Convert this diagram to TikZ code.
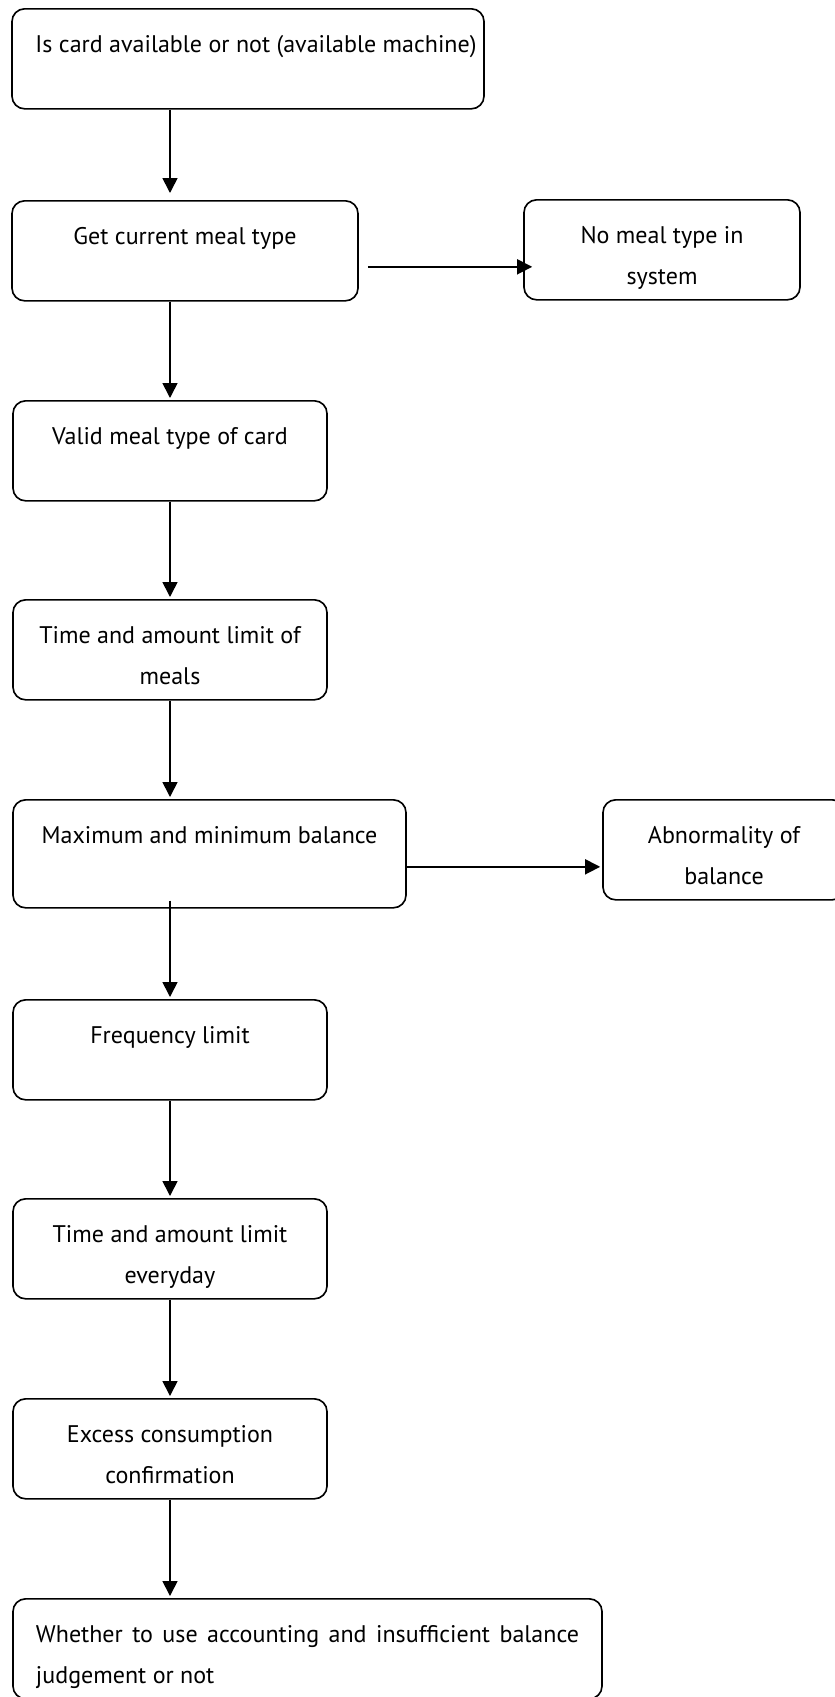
\documentclass[tikz,border=0pt]{standalone}
\usepackage{fontspec}
\setmainfont{PT Sans}
\usetikzlibrary{arrows.meta, positioning, calc}

\tikzset{
  caixa/.style={draw, line width=1.4pt, rounded corners=0.38cm, anchor=north,
    inner ysep=0pt, text height=1.32cm, text depth=1.68cm, align=center,
    font=\fontsize{20.5}{35}\selectfont},
  duas/.style={text height=2.55cm, text depth=0.45cm},
  seta/.style={line width=1.4pt, -{Triangle[length=0.45cm,width=0.45cm]}, shorten >=0.06cm}
}

\begin{document}
\begin{tikzpicture}[x=0.03cm, y=-0.03cm]

  \clip (0,0) rectangle (835,1697);

  % ---------- coluna principal ----------
  \node[caixa, minimum width=14.16cm] (cartao) at (248,8) {\hspace*{0.48cm}Is card available or not (available machine)};
  \node[caixa, minimum width=10.38cm] (tipo) at (185,200) {Get current meal type};
  \node[caixa, minimum width=9.42cm] (valido) at (170,400) {Valid meal type of card};
  \node[caixa, duas, minimum width=9.42cm] (refeicao) at (170,599) {Time and amount limit of\\meals};
  \node[caixa, minimum width=11.79cm, text depth=1.92cm] (saldo) at (209.5,799) {Maximum and minimum balance};
  \node[caixa, minimum width=9.42cm] (freq) at (170,999) {Frequency limit};
  \node[caixa, duas, minimum width=9.42cm] (diario) at (170,1198) {Time and amount limit\\everyday};
  \node[caixa, duas, minimum width=9.42cm] (excesso) at (170,1398) {Excess consumption\\confirmation};
  \node[caixa, minimum width=17.67cm, text width=16.29cm, align=justify] (conta) at (307.5,1598)
    {Whether to use accounting and insufficient balance\linebreak judgement or not};

  % ---------- caixas laterais ----------
  \node[caixa, duas, minimum width=8.28cm] (semtipo) at (662,199) {No meal type in\\system};
  \node[caixa, duas, minimum width=7.26cm] (anormal) at (724,799) {Abnormality of\\balance};

  % ---------- setas ----------
  \draw[seta, shorten >=0.21cm] (cartao.south -| valido.north) -- (tipo.north -| valido.north);
  \foreach \a/\b in {tipo/valido, valido/refeicao, refeicao/saldo, freq/diario, diario/excesso, excesso/conta}
    \draw[seta] (\a.south -| valido.north) -- (\b.north -| valido.north);
  \draw[seta, shorten <=-0.24cm] (saldo.south -| valido.north) -- (freq.north -| valido.north);

  \draw[seta, shorten >=0pt] ([shift={(9,16)}]tipo.east) -- ([shift={(9,16)}]tipo.east -| semtipo.west);
  \draw[seta] ([yshift=-0.39cm]saldo.east) -- ([yshift=-0.39cm]saldo.east -| anormal.west);

\end{tikzpicture}
\end{document}
